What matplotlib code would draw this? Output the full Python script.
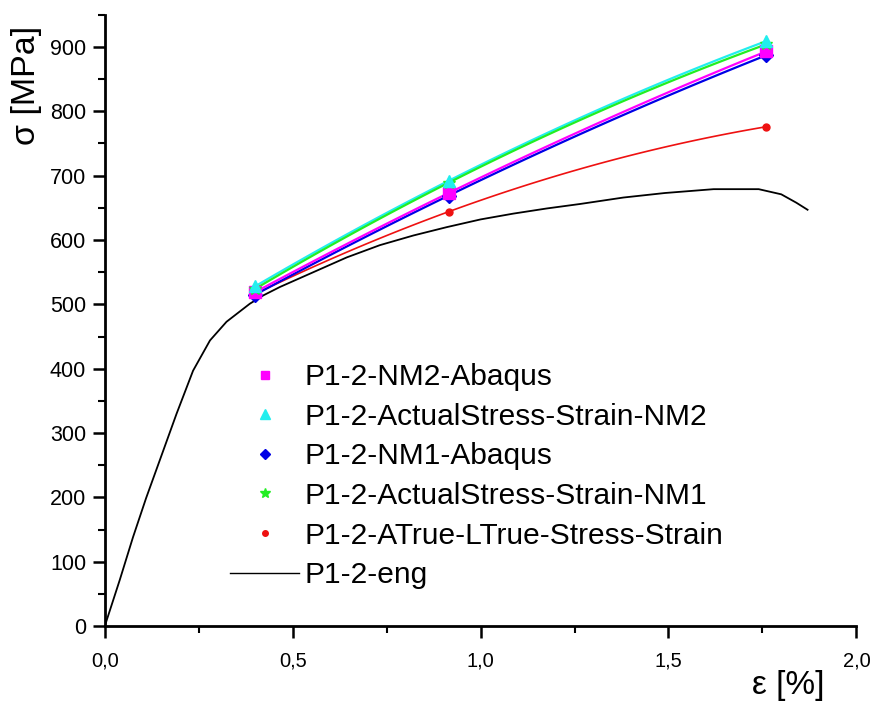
import numpy as np
import matplotlib
matplotlib.use("Agg")
import matplotlib.pyplot as plt
from matplotlib.ticker import MultipleLocator, FuncFormatter

plt.rcParams['font.family'] = ['Liberation Sans', 'DejaVu Sans']

# strain [%] where the model points sit
pt_strain = [0.40, 0.915, 1.76]

nm2_abaqus = [519, 673, 893]
actual_nm2 = [528, 692, 909]
nm1_abaqus = [515, 669, 887]
actual_nm1 = [524, 689, 904]
atrue_ltrue = [516, 644, 776]

# engineering curve
eng_strain = [0.0, 0.04, 0.075, 0.11, 0.1465, 0.191, 0.235, 0.28, 0.324,
              0.386, 0.422, 0.466, 0.555, 0.644, 0.732, 0.821, 0.91, 1.0,
              1.087, 1.176, 1.265, 1.38, 1.49, 1.62, 1.74, 1.80, 1.84, 1.87]
eng_stress = [0, 72, 138, 199, 258, 330, 397, 444, 473,
              501, 514, 527, 550, 573, 592, 607, 620, 632,
              641, 649, 656, 666, 673, 679, 679, 671, 658, 647]

series = [
    # label, values, colour, marker, size, line width
    ('P1-2-NM2-Abaqus', nm2_abaqus, '#ff00ff', 's', 8, 1.6),
    ('P1-2-ActualStress-Strain-NM2', actual_nm2, '#22eeee', '^', 9, 1.6),
    ('P1-2-NM1-Abaqus', nm1_abaqus, '#0000e6', 'D', 7, 1.6),
    ('P1-2-ActualStress-Strain-NM1', actual_nm1, '#22ee22', '*', 9, 1.6),
    ('P1-2-ATrue-LTrue-Stress-Strain', atrue_ltrue, '#ee1111', 'o', 5, 1.2),
]
# order the connecting lines / markers get painted in
line_order = [4, 2, 0, 1, 3]
marker_order = [4, 2, 0, 3, 1]

fig = plt.figure(figsize=(8.73, 7.02), dpi=100)
ax = fig.add_axes([0.120, 0.108, 0.861, 0.871])

ax.plot(eng_strain, eng_stress, color='black', lw=1.3, zorder=2)

xs = np.linspace(pt_strain[0], pt_strain[-1], 80)
for i in line_order:
    lab, vals, col, mk, ms, lw = series[i]
    c = np.polyfit(pt_strain, vals, 2)
    ax.plot(xs, np.polyval(c, xs), color=col, lw=lw, zorder=3)

handles = {}
for i in marker_order:
    lab, vals, col, mk, ms, lw = series[i]
    h, = ax.plot(pt_strain, vals, ls='none', marker=mk, ms=ms, color=col,
                 mec=col, label=lab, zorder=4)
    handles[i] = h
eng_h, = ax.plot([], [], color='black', lw=1.0, label='P1-2-eng')

leg = ax.legend([handles[i] for i in range(5)] + [eng_h],
                [s[0] for s in series] + ['P1-2-eng'],
                loc='upper left', bbox_to_anchor=(0.151, 0.45),
                frameon=False, fontsize=21.5, handlelength=2.3,
                handletextpad=0.2, labelspacing=0.39, markerscale=0.8,
                borderaxespad=0)

ax.set_xlim(0, 2.0)
ax.set_ylim(0, 950)
ax.spines['top'].set_visible(False)
ax.spines['right'].set_visible(False)
for s in ('left', 'bottom'):
    ax.spines[s].set_linewidth(2)

ax.xaxis.set_major_locator(MultipleLocator(0.5))
ax.xaxis.set_minor_locator(MultipleLocator(0.25))
ax.yaxis.set_major_locator(MultipleLocator(100))
ax.yaxis.set_minor_locator(MultipleLocator(50))
ax.xaxis.set_major_formatter(FuncFormatter(lambda v, p: f'{v:.1f}'.replace('.', ',')))
ax.tick_params(which='major', direction='out', length=8.5, width=1.8,
               labelsize=15.5, pad=5)
ax.tick_params(which='minor', direction='out', length=5, width=1.5)
ax.tick_params(axis='x', pad=10)
for t in ax.get_xticklabels():
    t.set_fontsize(14.5)

ax.set_ylabel('σ [MPa]', fontsize=24.5)
ax.yaxis.set_label_coords(-0.084, 0.884)
fig.text(0.945, 0.001, 'ε [%]', fontsize=24, ha='right', va='bottom')

fig.savefig('out.png', dpi=100)
